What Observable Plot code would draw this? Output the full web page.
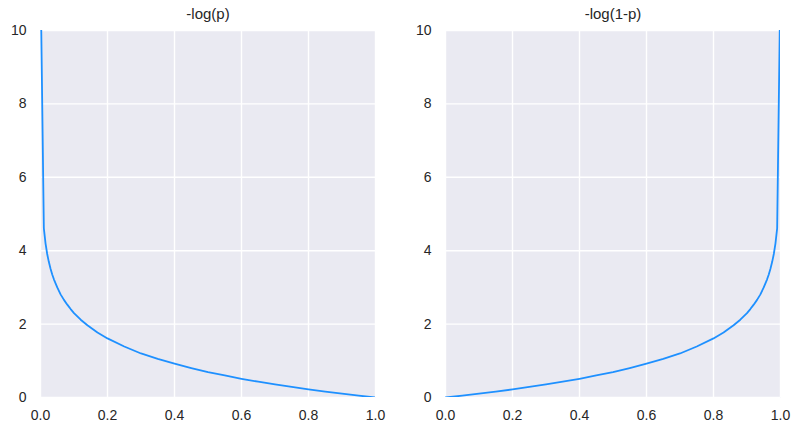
<!DOCTYPE html>
<html>
<head>
<meta charset="utf-8">
<script src="https://cdn.jsdelivr.net/npm/d3@7"></script>
<script src="https://cdn.jsdelivr.net/npm/@observablehq/plot@0.6"></script>
<style>
  html, body { margin: 0; padding: 0; background: #fff; }
  #wrap { display: flex; width: 800px; height: 433px; }
</style>
</head>
<body>
<div id="wrap"></div>
<script>
const titles = ["-log(p)", "-log(1-p)"];
const xTicks = [0, 0.2, 0.4, 0.6, 0.8, 1.0];
const yTicks = [0, 2, 4, 6, 8, 10];

const pLeft = [0.002, 0.01, 0.015, 0.02, 0.025, 0.03, 0.035, 0.04, 0.05, 0.06, 0.07, 0.08, 0.09, 0.1, 0.12, 0.14, 0.17, 0.2, 0.25, 0.3, 0.35, 0.4, 0.45, 0.5, 0.55, 0.6, 0.65, 0.7, 0.75, 0.8, 0.85, 0.9, 0.95, 1.0];
const yLeft = [10.2, 4.61, 4.2, 3.91, 3.69, 3.51, 3.35, 3.22, 3.0, 2.81, 2.66, 2.53, 2.41, 2.3, 2.12, 1.97, 1.77, 1.61, 1.39, 1.2, 1.05, 0.92, 0.8, 0.69, 0.6, 0.51, 0.43, 0.36, 0.29, 0.22, 0.16, 0.105, 0.05, 0.0];

const pRight = [0.0, 0.05, 0.1, 0.15, 0.2, 0.25, 0.3, 0.35, 0.4, 0.45, 0.5, 0.55, 0.6, 0.65, 0.7, 0.75, 0.8, 0.83, 0.86, 0.88, 0.9, 0.91, 0.92, 0.93, 0.94, 0.95, 0.96, 0.965, 0.97, 0.975, 0.98, 0.985, 0.99, 0.998];
const yRight = [0.0, 0.05, 0.105, 0.16, 0.22, 0.29, 0.36, 0.43, 0.51, 0.6, 0.69, 0.8, 0.92, 1.05, 1.2, 1.39, 1.61, 1.77, 1.97, 2.12, 2.3, 2.41, 2.53, 2.66, 2.81, 3.0, 3.22, 3.35, 3.51, 3.69, 3.91, 4.2, 4.61, 10.2];

const panels = [
  {title: titles[0], data: pLeft.map((p, i) => ({p, v: yLeft[i]})), ml: 40, mr: 25},
  {title: titles[1], data: pRight.map((p, i) => ({p, v: yRight[i]})), ml: 45, mr: 20}
];

const wrap = document.getElementById("wrap");
for (const pn of panels) {
  const chart = Plot.plot({
    width: 400,
    height: 433,
    marginLeft: pn.ml,
    marginRight: pn.mr,
    marginTop: 30,
    marginBottom: 36,
    style: {fontFamily: "'Liberation Sans', Arial, sans-serif", fontSize: "14px", color: "#262626", background: "#fff"},
    x: {domain: [0, 1], ticks: xTicks, tickFormat: d3.format(".1f"), label: null},
    y: {domain: [0, 10], ticks: yTicks, label: null},
    marks: [
      Plot.frame({fill: "#eaeaf2", stroke: null}),
      Plot.gridX(xTicks, {stroke: "#fff", strokeOpacity: 1, strokeWidth: 1.4}),
      Plot.gridY(yTicks, {stroke: "#fff", strokeOpacity: 1, strokeWidth: 1.4}),
      Plot.axisX({ticks: xTicks, tickSize: 0, tickPadding: 13, tickFormat: d3.format(".1f"), fill: "#262626", fontSize: 14}),
      Plot.axisY({ticks: yTicks, tickSize: 0, tickPadding: 14, fill: "#262626", fontSize: 14}),
      Plot.line(pn.data, {x: "p", y: "v", stroke: "#1e90ff", strokeWidth: 1.8, curve: "linear", clip: true}),
      Plot.text([pn.title], {frameAnchor: "top", lineAnchor: "middle", dy: -16, text: d => d, fill: "#262626", fontSize: 15})
    ]
  });
  wrap.appendChild(chart);
}
</script>
</body>
</html>
